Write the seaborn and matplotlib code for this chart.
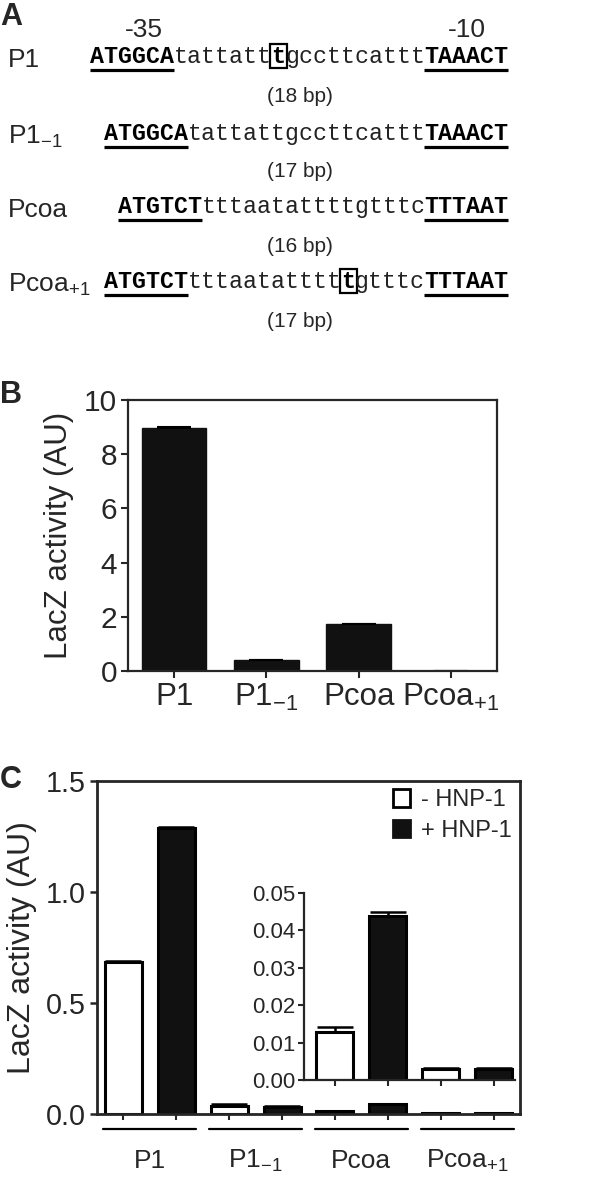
import numpy as np
import pandas as pd
import matplotlib
matplotlib.use("Agg")
import matplotlib.pyplot as plt
import seaborn as sns
from matplotlib.patches import Rectangle, Patch
from matplotlib.ticker import FormatStrFormatter, MultipleLocator

sns.set_theme(style="ticks")
plt.rcParams["font.family"] = ["Liberation Sans", "DejaVu Sans"]
plt.rcParams["mathtext.fontset"] = "custom"
plt.rcParams["mathtext.rm"] = "Liberation Sans"
plt.rcParams["mathtext.it"] = "Liberation Sans:italic"
plt.rcParams["mathtext.bf"] = "Liberation Sans:bold"
plt.rcParams["mathtext.default"] = "rm"

# ---------------- data ----------------
promoters = ["P1", "P1_-1", "Pcoa", "Pcoa_+1"]
tick_labels = ["P1", r"P1$_{-1}$", "Pcoa", r"Pcoa$_{+1}$"]

lacz_b = [8.95, 0.40, 1.72, 0.004]
lacz_b_err = [0.05, 0.02, 0.03, 0.002]

conditions = ["- HNP-1", "+ HNP-1"]
lacz_c_minus = [0.685, 0.037, 0.0128, 0.0029]
lacz_c_plus = [1.288, 0.033, 0.0438, 0.0030]
err_c_minus = [0.006, 0.006, 0.0014, 0.0003]
err_c_plus = [0.004, 0.003, 0.0011, 0.0003]

# sequences: (label, [(text, style)], spacer label)
seq_rows = [
    ("P1", [("ATGGCA", "U"), ("tattatt", "l"), ("t", "box"), ("gccttcattt", "l"), ("TAAACT", "U")], "(18 bp)"),
    (r"P1$_{-1}$", [("ATGGCA", "U"), ("tattattgccttcattt", "l"), ("TAAACT", "U")], "(17 bp)"),
    ("Pcoa", [("ATGTCT", "U"), ("tttaatattttgtttc", "l"), ("TTTAAT", "U")], "(16 bp)"),
    (r"Pcoa$_{+1}$", [("ATGTCT", "U"), ("tttaatatttt", "l"), ("t", "box"), ("gtttc", "l"), ("TTTAAT", "U")], "(17 bp)"),
]

W, H = 600, 1183
fig = plt.figure(figsize=(W / 100, H / 100), dpi=100)


def fpos(left, top, right, bottom):
    return [left / W, 1 - bottom / H, (right - left) / W, (bottom - top) / H]


BLACK = "#111111"

# ---------------- panel A ----------------
axa = fig.add_axes([0, 0, 1, 1])
axa.set_xlim(0, W)
axa.set_ylim(H, 0)
axa.axis("off")

axa.text(0, 2, "A", fontsize=22, fontweight="bold", ha="left", va="top")
axa.text(0, 380, "B", fontsize=22, fontweight="bold", ha="left", va="top")
axa.text(0, 765, "C", fontsize=22, fontweight="bold", ha="left", va="top")

axa.text(144, 37, "-35", fontsize=19, ha="center", va="baseline")
axa.text(467, 37, "-10", fontsize=19, ha="center", va="baseline")

cw = 13.93
seq_fs = cw * 72 / 60.0
right_end = 508
baselines = [63, 140, 213, 288]
spacer_y = [96, 171, 246, 321]
for (lab, segs, sp), base, spy in zip(seq_rows, baselines, spacer_y):
    n = sum(len(s) for s, _ in segs)
    x = right_end - n * cw
    axa.text(8, base + 4, lab, fontsize=19, ha="left", va="baseline")
    for s, st in segs:
        if st == "l":
            axa.text(x, base, s, family="Liberation Mono", fontsize=seq_fs,
                     ha="left", va="baseline", color="#222222")
        else:
            axa.text(x, base, s, family="Liberation Mono", fontsize=seq_fs,
                     fontweight="bold", ha="left", va="baseline", color="black")
            if st == "U":
                axa.plot([x, x + len(s) * cw], [base + 7, base + 7], color="black",
                         lw=2.3, solid_capstyle="butt")
            else:
                axa.add_patch(Rectangle((x - 1, base - 19), cw + 3, 24, fill=False,
                                        ec="black", lw=1.6))
        x += len(s) * cw
    axa.text(300, spy, sp, fontsize=15, ha="center", va="center")

# ---------------- panel B ----------------
axb = fig.add_axes(fpos(128, 400, 497, 671))
df_b = pd.DataFrame({"promoter": tick_labels, "lacz": lacz_b})
sns.barplot(data=df_b, x="promoter", y="lacz", color=BLACK, width=0.7,
            errorbar=None, saturation=1, edgecolor=BLACK, linewidth=1, ax=axb)
xb = [p.get_x() + p.get_width() / 2 for p in axb.patches]
axb.errorbar(xb, lacz_b, yerr=[np.zeros(4), lacz_b_err], fmt="none",
             ecolor="black", elinewidth=1.5, capsize=12, capthick=1.5)
axb.set_xlim(-0.5, 3.5)
axb.set_ylim(0, 10)
axb.yaxis.set_major_locator(MultipleLocator(2))
axb.set_xlabel("")
axb.set_ylabel("LacZ activity (AU)", fontsize=22.5)
axb.yaxis.set_label_coords(-0.145, 0.5)
axb.tick_params(axis="both", labelsize=21.5, width=1.5, length=5, direction="out", pad=3)
axb.tick_params(axis="x", labelsize=22.5)
for s in axb.spines.values():
    s.set_linewidth(1.6)
    s.set_visible(True)
axb.set_facecolor("white")

# ---------------- panel C ----------------
df_c = pd.DataFrame({
    "promoter": tick_labels * 2,
    "condition": [conditions[0]] * 4 + [conditions[1]] * 4,
    "lacz": lacz_c_minus + lacz_c_plus,
})
pal = {conditions[0]: "white", conditions[1]: BLACK}


def draw_c(ax):
    sns.barplot(data=df_c, x="promoter", y="lacz", hue="condition", palette=pal,
                width=1.0, gap=0.3, errorbar=None, saturation=1, edgecolor="black",
                linewidth=2.2, ax=ax, legend=False)
    cs = [p.get_x() + p.get_width() / 2 for p in ax.patches][:8]
    ax.errorbar(cs[:4], lacz_c_minus, yerr=[np.zeros(4), err_c_minus], fmt="none",
                ecolor="black", elinewidth=1.8, capsize=13, capthick=1.8)
    ax.errorbar(cs[4:8], lacz_c_plus, yerr=[np.zeros(4), err_c_plus], fmt="none",
                ecolor="black", elinewidth=1.8, capsize=13, capthick=1.8)
    return sorted(cs)


axc = fig.add_axes(fpos(97, 781, 520, 1114))
centers = draw_c(axc)
axc.set_xticks(centers)
axc.set_xticklabels([])
axc.set_xlim(-0.5, 3.5)
axc.set_ylim(0, 1.5)
axc.yaxis.set_major_locator(MultipleLocator(0.5))
axc.yaxis.set_major_formatter(FormatStrFormatter("%.1f"))
axc.set_xlabel("")
axc.set_ylabel("LacZ activity (AU)", fontsize=23)
axc.yaxis.set_label_coords(-0.142, 0.5)
axc.tick_params(axis="y", labelsize=20.7, width=1.8, length=5, pad=3)
axc.tick_params(axis="x", width=1.5, length=4)
for s in axc.spines.values():
    s.set_linewidth(2.0)
    s.set_visible(True)

trans = axc.get_xaxis_transform()
for i, lab in enumerate(tick_labels):
    axc.plot([i - 0.44, i + 0.44], [-0.045, -0.045], color="black", lw=1.6,
             transform=trans, clip_on=False)
    axc.text(i, -0.162, lab, fontsize=19, ha="center", va="baseline",
             transform=trans)

handles = [Patch(facecolor="white", edgecolor="black", linewidth=2, label=conditions[0]),
           Patch(facecolor=BLACK, edgecolor=BLACK, linewidth=2, label=conditions[1])]
axc.legend(handles=handles, loc="upper right", frameon=False, fontsize=17,
           handlelength=0.75, handleheight=0.75, handletextpad=0.45,
           labelspacing=0.35, borderaxespad=0.15, borderpad=0.2)

# inset
axi = fig.add_axes(fpos(304, 893, 515, 1080))
axi.set_facecolor("none")
ci = draw_c(axi)
x_lo = (304 - 97) / 105.75 - 0.5
x_hi = (515 - 97) / 105.75 - 0.5
axi.set_xticks([c for c in ci if x_lo < c < x_hi])
axi.set_xticklabels([])
axi.set_xlim(x_lo, x_hi)
axi.set_ylim(0, 0.05)
axi.yaxis.set_major_locator(MultipleLocator(0.01))
axi.yaxis.set_major_formatter(FormatStrFormatter("%.2f"))
axi.set_xlabel("")
axi.set_ylabel("")
axi.tick_params(axis="y", labelsize=16, width=1.5, length=4, pad=2)
axi.tick_params(axis="x", width=1.5, length=4)
axi.spines["top"].set_visible(False)
axi.spines["right"].set_visible(False)
axi.spines["left"].set_linewidth(1.6)
axi.spines["bottom"].set_linewidth(1.6)

fig.savefig("out.png", dpi=100)
